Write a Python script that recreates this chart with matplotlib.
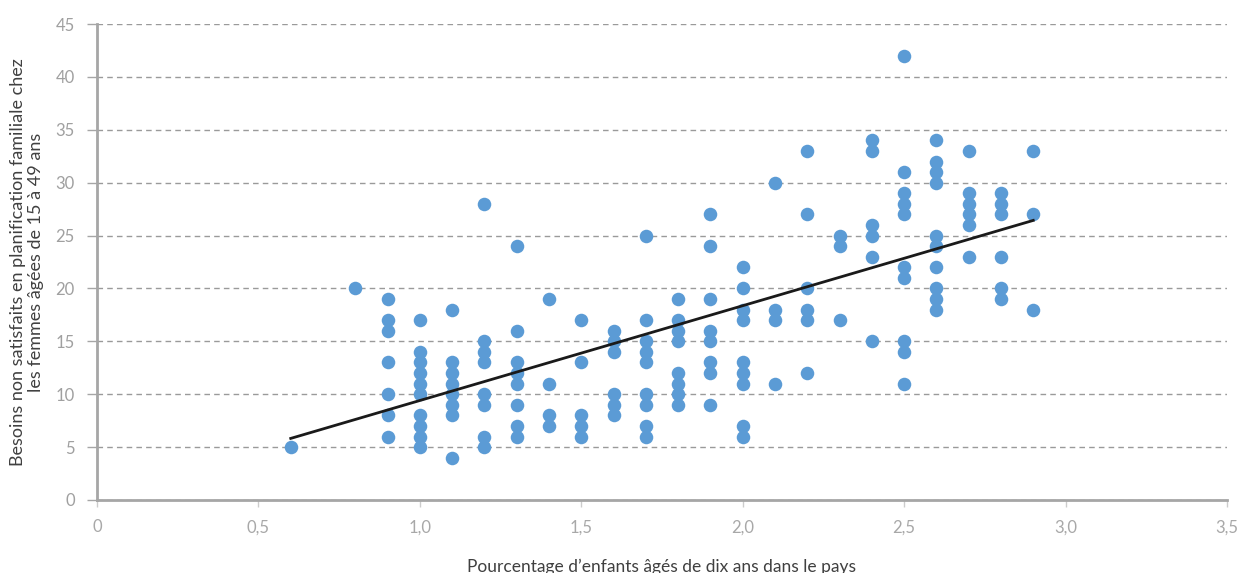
#!/usr/bin/env python3

import numpy as np
import matplotlib
matplotlib.use("Agg")
import matplotlib.pyplot as plt
from matplotlib.ticker import FuncFormatter

################################################################################
# Data (one list per x column)
################################################################################

x_columns = [0.6, 0.8, 0.9, 1.0, 1.1, 1.2, 1.3, 1.4, 1.5, 1.6, 1.7, 1.8,
             1.9, 2.0, 2.1, 2.2, 2.3, 2.4, 2.5, 2.6, 2.7, 2.8, 2.9]

y_columns = [
    [5],
    [20],
    [19, 17, 16, 13, 10, 8, 6],
    [17, 14, 13, 12, 11, 10, 8, 7, 6, 5],
    [18, 13, 12, 11, 10, 9, 8, 4],
    [28, 15, 14, 13, 10, 9, 6, 5],
    [24, 16, 13, 12, 11, 9, 7, 6],
    [19, 11, 8, 7],
    [17, 13, 8, 7, 6],
    [16, 15, 14, 10, 9, 8],
    [25, 17, 15, 14, 13, 10, 9, 7, 6],
    [19, 17, 16, 15, 12, 11, 10, 9],
    [27, 24, 19, 16, 15, 13, 12, 9],
    [22, 20, 18, 17, 13, 12, 11, 7, 6],
    [30, 18, 17, 11],
    [33, 27, 20, 18, 17, 12],
    [25, 24, 17],
    [34, 33, 26, 25, 23, 15],
    [42, 31, 29, 28, 27, 22, 21, 15, 14, 11],
    [34, 32, 31, 30, 25, 24, 22, 20, 19, 18],
    [33, 29, 28, 27, 26, 23],
    [29, 28, 27, 23, 20, 19],
    [33, 27, 18],
]

x_ticks = [0, 0.5, 1.0, 1.5, 2.0, 2.5, 3.0, 3.5]
y_ticks = list(range(0, 50, 5))

x_label = "Pourcentage d\u2019enfants âgés de dix ans dans le pays"
y_label = ("Besoins non satisfaits en planification familiale chez\n"
           "les femmes âgées de 15 à 49 ans")

################################################################################
# Plot
################################################################################

def main():
    plt.rcParams['font.family'] = ['Lato', 'DejaVu Sans']

    xs = np.concatenate([[x] * len(ys) for x, ys in zip(x_columns, y_columns)])
    ys = np.concatenate([np.array(c, dtype=float) for c in y_columns])

    fig = plt.figure(figsize=(12.44, 5.73), dpi=100)
    ax = fig.add_axes([0.078, 0.1274, 0.9083, 0.8307])

    ax.scatter(xs, ys, s=95, color="#5B9BD5", zorder=3, linewidths=0)

    # linear trend line from the data
    slope, intercept = np.polyfit(xs, ys, 1)
    tx = np.array([xs.min(), xs.max()])
    ax.plot(tx, slope * tx + intercept, color="#1a1a1a", lw=2, zorder=4)

    ax.set_xlim(0, 3.5)
    ax.set_ylim(0, 45)
    ax.set_xticks(x_ticks)
    ax.set_yticks(y_ticks)
    ax.xaxis.set_major_formatter(FuncFormatter(lambda v, p: "0" if v == 0 else f"{v:.1f}".replace(".", ",")))

    ax.yaxis.grid(True, linestyle=(0, (4, 3)), color="#9a9a9a", lw=1)
    ax.set_axisbelow(True)

    for side in ["top", "right"]:
        ax.spines[side].set_visible(False)
    for side in ["left", "bottom"]:
        ax.spines[side].set_color("#a6a6a6")
        ax.spines[side].set_linewidth(2)

    ax.tick_params(axis="y", direction="out", length=7, width=1, color="#a6a6a6",
                   labelcolor="#a0a0a0", labelsize=12, pad=9)
    ax.tick_params(axis="x", direction="out", length=5, width=1, color="#cccccc",
                   labelcolor="#a8a8a8", labelsize=12, pad=9)

    ax.set_xlabel(x_label, fontsize=12.5, color="#404040", labelpad=17)
    ax.set_ylabel(y_label, fontsize=13, color="#404040", labelpad=8)

    fig.savefig("out.png", dpi=100)

if __name__ == "__main__":
    main()
